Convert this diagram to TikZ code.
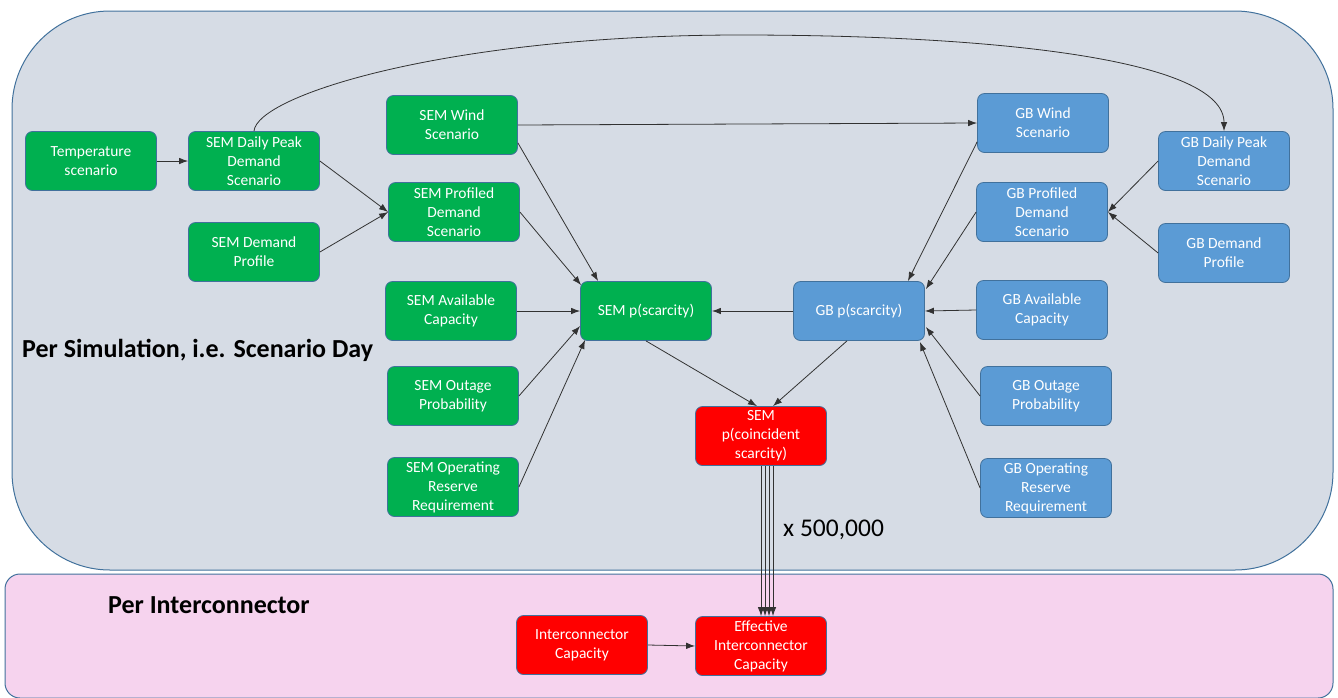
\documentclass[tikz,border=0pt]{standalone}
\usepackage{fontspec}
\setmainfont{Carlito}
\usetikzlibrary{arrows.meta,calc}
\definecolor{semgreen}{HTML}{00B050}
\definecolor{gbblue}{HTML}{5B9BD5}
\definecolor{redbox}{HTML}{FF0000}
\definecolor{edgeblue}{HTML}{41719C}
\definecolor{greybg}{RGB}{214,220,229}
\definecolor{pinkbg}{RGB}{246,211,238}
\definecolor{linegrey}{RGB}{50,50,50}
\tikzset{
  box/.style={rounded corners=7pt, draw=edgeblue, line width=0.8pt, text=white,
    font=\fontsize{15.5}{19}\selectfont, minimum width=131pt, minimum height=59pt,
    align=center, inner sep=0pt},
  sem/.style={box, fill=semgreen},
  gb/.style={box, fill=gbblue},
  rbox/.style={box, fill=redbox},
  arr/.style={draw=linegrey, line width=0.8pt, -{Latex[length=9pt,width=6.5pt]}},
  title/.style={font=\fontsize{26}{28}\selectfont\bfseries, anchor=west, inner sep=0pt},
}
\begin{document}
\begin{tikzpicture}[x=1pt,y=-1pt]
\useasboundingbox (0,0) rectangle (1338,697);
% background panels
\draw[fill=greybg, draw=edgeblue, line width=1pt, rounded corners=98pt] (12,11) rectangle (1333,570);
\draw[fill=pinkbg, draw=edgeblue, line width=1pt, rounded corners=15pt] (5,574) rectangle (1333,698);

% SEM side
\node[sem] (temp) at (91,161) {Temperature\\scenario};
\node[sem] (sdp) at (254,161) {SEM Daily Peak\\Demand\\Scenario};
\node[sem] (sdprof) at (254,252) {SEM Demand\\Profile};
\node[sem] (swind) at (452,125) {SEM Wind\\Scenario};
\node[sem] (spd) at (454,212) {SEM Profiled\\Demand\\Scenario};
\node[sem] (savail) at (451,311) {SEM Available\\Capacity};
\node[sem] (sout) at (453,396) {SEM Outage\\Probability};
\node[sem] (sop) at (453,487) {SEM Operating\\Reserve\\Requirement};
\node[sem] (sp) at (646,311) {SEM p(scarcity)};

% GB side
\node[gb] (gp) at (859,311) {GB p(scarcity)};
\node[gb] (gwind) at (1043,123) {GB Wind\\Scenario};
\node[gb] (gdp) at (1224,161) {GB Daily Peak\\Demand\\Scenario};
\node[gb] (gpd) at (1042,212) {GB Profiled\\Demand\\Scenario};
\node[gb] (gdprof) at (1224,253) {GB Demand\\Profile};
\node[gb] (gavail) at (1042,310) {GB Available\\Capacity};
\node[gb] (gout) at (1046,396) {GB Outage\\Probability};
\node[gb] (gop) at (1046,488) {GB Operating\\Reserve\\Requirement};

% red nodes
\node[rbox] (coinc) at (761,436) {SEM\\p(coincident\\scarcity)};
\node[rbox] (icap) at (582,645) {Interconnector\\Capacity};
\node[rbox] (eff) at (761,646) {Effective\\Interconnector\\Capacity};

% labels
\node[title] (lsim) at (22,350) {Per Simulation, i.e. Scenario Day};
\node[title] (lint) at (108,605) {Per Interconnector};
\node[font=\fontsize{25.5}{28}\selectfont, anchor=west, inner sep=0pt] (lx) at (783,530) {x 500,000};

% edges SEM
\draw[arr] (temp.east) -- (sdp.west);
\draw[arr] (sdp.east) -- (spd.west);
\draw[arr] (sdprof.east) -- (spd.west);
\draw[arr] (sdp.north) .. controls (257,95) and (450,35) .. (740,35)
  .. controls (1000,35) and (1224,60) .. (gdp.north);
\draw[arr] (swind.east) -- (gwind.west);
\draw[arr] ($(swind.south east)+(0,-12)$) -- ($(sp.north west)+(18,0)$);
\draw[arr] (spd.east) -- ($(sp.north west)+(1,4)$);
\draw[arr] (savail.east) -- (sp.west);
\draw[arr] (sout.east) -- ($(sp.west)+(0,15)$);
\draw[arr] (sop.east) -- ($(sp.south west)+(5,-1)$);
\draw[arr] (gp.west) -- (sp.east);
\draw[arr] (sp.south) -- ($(coinc.north)+(-4,0)$);
\draw[arr] ($(gp.south)+(-12,0)$) -- ($(coinc.north)+(12,0)$);

% edges GB
\draw[arr] ($(gwind.south west)+(0,-11)$) -- ($(gp.north east)+(-17,0)$);
\draw[arr] (gpd.west) -- ($(gp.north east)+(1,8)$);
\draw[arr] (gdp.west) -- (gpd.east);
\draw[arr] (gdprof.west) -- (gpd.east);
\draw[arr] (gavail.west) -- (gp.east);
\draw[arr] (gout.west) -- ($(gp.east)+(1,16)$);
\draw[arr] (gop.west) -- ($(gp.south east)+(-5,1)$);

% multiple edges coincident -> effective
\foreach \dx in {0,4,8,12} {
  \draw[arr] ($(coinc.south)+(\dx,0)$) -- ($(eff.north)+(\dx,0)$);
}
\draw[arr] (icap.east) -- (eff.west);
\end{tikzpicture}
\end{document}
